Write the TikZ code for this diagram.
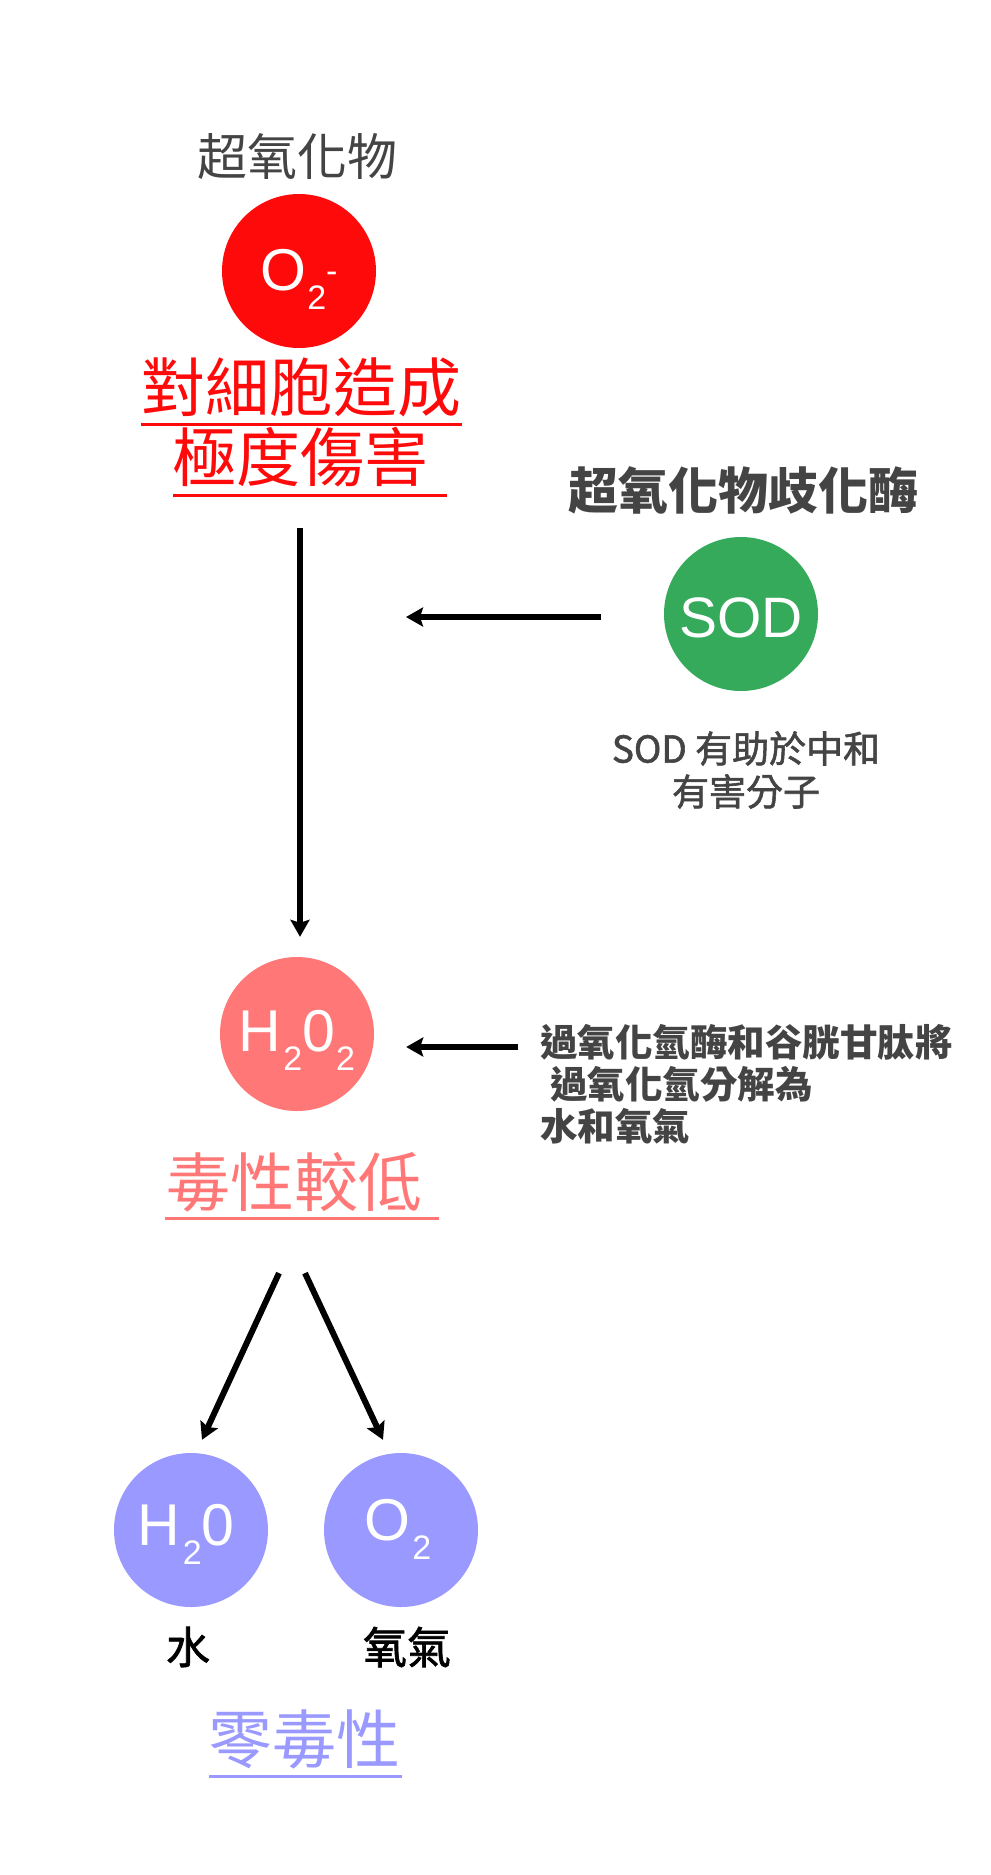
\documentclass[tikz,border=0pt]{standalone}
\usepackage{fontspec}
\setmainfont{Liberation Sans}
\newfontfamily\cjk{Noto Sans CJK TC}
\newfontfamily\cjkmed[FakeBold=1.5]{Noto Sans CJK TC}
\usetikzlibrary{calc,arrows.meta,positioning}

\definecolor{radred}{RGB}{255,10,10}
\definecolor{sodgreen}{RGB}{52,170,90}
\definecolor{perpink}{RGB}{255,119,119}
\definecolor{safeblue}{RGB}{153,153,255}
\definecolor{textgray}{RGB}{68,68,68}

\newcommand{\fsz}[1]{\fontsize{#1}{#1}\selectfont}
\newcommand{\subtwo}{\raisebox{-19pt}{\fsz{34}2}}

\begin{document}
\begin{tikzpicture}[x=1pt,y=-1pt,
        mol/.style={circle, minimum size=154pt, inner sep=0pt},
        formula/.style={anchor=base, inner sep=0pt, text=white, font=\fsz{59}},
        cjktext/.style={inner sep=0pt},
        ul/.style={line width=3pt},
        arrow/.style={line width=6pt, -{Stealth[length=17pt,width=19pt,inset=3pt]}}
      ]
\useasboundingbox (0,0) rectangle (991,1875);

  % superoxide
  \node   (supname) [cjktext,text=textgray,font={\cjk\fsz{50}}] at (297,157) {超氧化物};
  \node   (o2m) [mol,fill=radred] at (299,271) {};
  \node   (o2m-f) [formula] at ([yshift=-19pt]o2m.center) {O\kern1pt\subtwo\raisebox{8pt}{\fsz{34}-}};
  \node   (harm1) [cjktext,text=radred,font={\cjk\fsz{64}}] at (301,387) {對細胞造成};
  \node   (harm2) [cjktext,text=radred,font={\cjk\fsz{64}}] at (300,457) {極度傷害};
  \draw[ul,radred] ([yshift=-8pt]harm1.south west) -- ([xshift=1pt,yshift=-8pt]harm1.south east);
  \draw[ul,radred] ([xshift=1pt,yshift=-8pt]harm2.south west) -- ([xshift=19pt,yshift=-8pt]harm2.south east);

  % enzyme
  \node   (sodname) [cjktext,text=textgray,font={\cjk\bfseries\fsz{50}}] at (743,490) {超氧化物歧化酶};
  \node   (sod) [mol,fill=sodgreen] at (741,614) {};
  \node   (sod-f) [formula,font=\fsz{57}] at ([yshift=-23pt]sod.center) {SOD};
  \node   (soddesc) [cjktext,text=textgray,align=center,font={\cjkmed\fontsize{37}{43}\selectfont}] at (746,770) {SOD 有助於中和\\有害分子};

  % hydrogen peroxide
  \node   (h2o2) [mol,fill=perpink] at (297,1034) {};
  \node   (h2o2-f) [formula] at ([yshift=-17pt]h2o2.center) {H\kern2pt\subtwo 0\kern1pt\subtwo};
  \node   (cat) [cjktext,anchor=west,align=left,text=textgray,font={\cjk\bfseries\fontsize{37.5}{42}\selectfont}] at (540,1084) {過氧化氫酶和谷胱甘肽將\\\hspace*{10pt}過氧化氫分解為\\水和氧氣};
  \node   (lowtox) [cjktext,text=perpink,font={\cjk\fsz{64}}] at (294,1182) {毒性較低};
  \draw[ul,perpink] ([xshift=-1pt,yshift=-6pt]lowtox.south west) -- ([xshift=17pt,yshift=-6pt]lowtox.south east);

  % water and oxygen
  \node   (water) [mol,fill=safeblue] at (191,1530) {};
  \node   (oxy) [mol,fill=safeblue] at (401,1530) {};
  \node   (water-f) [formula] at ([xshift=-5pt,yshift=-15pt]water.center) {H\kern3pt\subtwo 0};
  \node   (oxy-f) [formula] at ([xshift=-3pt,yshift=-10pt]oxy.center) {O\kern2pt\subtwo};
  \node   (water-l) [cjktext,font={\cjkmed\fsz{44}}] at (188,1647) {水};
  \node   (oxy-l) [cjktext,font={\cjkmed\fsz{44}}] at (407,1647) {氧氣};
  \node   (zerotox) [cjktext,text=safeblue,font={\cjk\fsz{64}}] at (304,1739) {零毒性};
  \draw[ul,safeblue] ([xshift=1pt,yshift=-8pt]zerotox.south west) -- ([xshift=2pt,yshift=-8pt]zerotox.south east);

  % arrows
  \draw[arrow] ([yshift=-41pt]harm2.south) -- ([yshift=20pt]harm2.south |- h2o2.north);
  \draw[arrow] ([xshift=-63pt,yshift=-3pt]sod.west) -- ($(harm2.south |- sod.west)+(106,3)$);
  \draw[arrow] ($(h2o2.east)+(144,13)$) -- ($(h2o2.east)+(32,13)$);
  \draw[arrow] ($(lowtox.south)+(-15,61)$) -- ($(water.north)+(11,-13)$);
  \draw[arrow] ($(lowtox.south)+(11,61)$) -- ($(oxy.north)+(-18,-13)$);

\end{tikzpicture}
\end{document}
